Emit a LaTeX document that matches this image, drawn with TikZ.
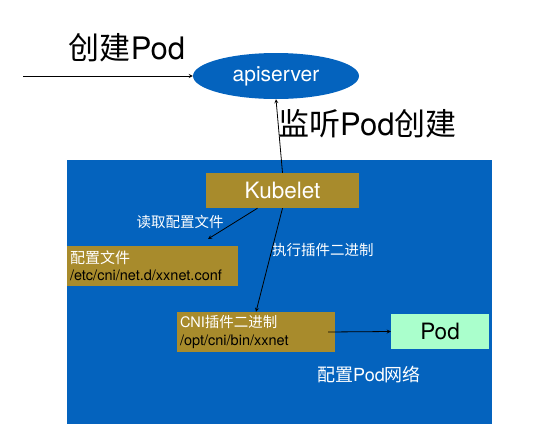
\documentclass[tikz,border=0pt]{standalone}
\usepackage{fontspec}
\setmainfont{TeX Gyre Heros}
\newfontfamily\cjk{Noto Sans CJK SC}
\usetikzlibrary{shapes.geometric}
\definecolor{netblue}{RGB}{4,99,190}
\definecolor{plugbrown}{RGB}{168,139,44}
\definecolor{podgreen}{RGB}{170,255,204}
\newcommand{\fsz}[2]{\fontsize{#1}{#2}\selectfont}
\tikzstyle{box} = [rectangle, fill=plugbrown, inner sep=0pt]
\tikzstyle{lbl} = [text=white, inner sep=0pt, font=\fsz{14.5}{17}\cjk]
\tikzstyle{arr} = [->, >=stealth, black, line width=.8pt]

\begin{document}
\begin{tikzpicture}[x=1pt, y=-1pt]
	\useasboundingbox (0,0) rectangle (535,447);
	\fill[netblue] (67,160) rectangle (492,424);
	\node [ellipse, fill=netblue, minimum width=166pt, minimum height=46pt,
		text=white, font=\fsz{21}{24}] (api) at (276,76) {apiserver};
	\node [box, minimum width=153pt, minimum height=35pt,
		text=white, font=\fsz{22.5}{24}] (kubelet) at (282.5,190.5) {Kubelet};
	\node [box, minimum height=40pt, text width=165pt, inner xsep=3pt,
		align=left, font=\fsz{14.5}{17}] (conf) at (152.5,266)
		{\textcolor{white}{\cjk\fsz{15}{17}配置文件}\\/etc/cni/net.d/xxnet.conf};
	\node [box, minimum height=40pt, text width=152pt, inner xsep=3pt,
		align=left, font=\fsz{14.5}{18}] (cni) at (256,332)
		{\textcolor{white}{CNI{\cjk 插件二进制}}\\/opt/cni/bin/xxnet};
	\node [rectangle, fill=podgreen, minimum width=98pt, minimum height=35pt,
		font=\fsz{22.5}{24}] (pod) at (440,331.5) {Pod};
	% labels
	\node [inner sep=0pt, font=\fsz{31}{34}] (create) at (127,48) {{\cjk 创建}Pod};
	\node [inner sep=0pt, font=\fsz{31}{34}, anchor=west] (watch) at (278,124) {{\cjk 监听}Pod{\cjk 创建}};
	\node [lbl] (read) at (180,222) {读取配置文件};
	\node [lbl, anchor=west] (exec) at (272,250) {执行插件二进制};
	\node [lbl, font=\fsz{18}{20}] (setup) at (369,375) {{\cjk 配置}Pod{\cjk 网络}};
	% connectors
	\coordinate (src) at (23,76);
	\coordinate (readend) at (208,239);
	\draw [arr] (src) -- (api.west);
	\draw [arr] (kubelet.north) -- (api.south);
	\draw [arr] ([xshift=-25pt]kubelet.south) -- (readend);
	\draw [arr] (kubelet.south) -- (cni.north);
	\draw [arr] ([xshift=-7pt]cni.east) -- (pod.west);
\end{tikzpicture}
\end{document}
